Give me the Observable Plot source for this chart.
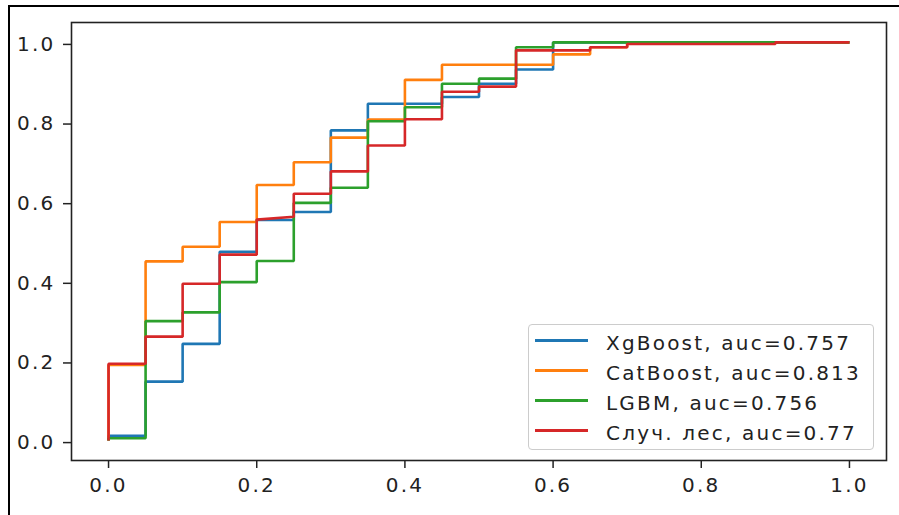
<!DOCTYPE html>
<html>
<head>
<meta charset="utf-8">
<script src="https://cdn.jsdelivr.net/npm/d3@7"></script>
<script src="https://cdn.jsdelivr.net/npm/@observablehq/plot@0.6"></script>
<style>
  body { margin: 0; background: #fff; }
  #wrap { position: relative; width: 899px; height: 515px; overflow: hidden; font-family: "DejaVu Sans", sans-serif; }
  #border { position: absolute; left: 8px; top: 5px; width: 920px; height: 540px; border-top: 2px solid #000; border-left: 2px solid #000; pointer-events: none; }
  #chart { position: absolute; left: 0; top: 0; }
  #chart svg text { letter-spacing: 2.2px; }
  #legend { position: absolute; left: 528px; top: 324px; width: 344px; height: 124px; box-sizing: content-box;
            background: rgba(255,255,255,0.8); border: 1px solid #cccccc; border-radius: 4px; }
  .row { position: absolute; left: 0; height: 30px; width: 100%; }
  .sw { position: absolute; left: 6px; top: 14px; width: 53px; height: 2.6px; }
  .lab { position: absolute; left: 77px; top: 3px; line-height: 30px; font-size: 20px; letter-spacing: 2.2px; color: #222; white-space: nowrap; }
</style>
</head>
<body>
<div id="wrap">
  <div id="chart"></div>
  <div id="legend"></div>
  <div id="border"></div>
</div>
<script>
// ---- data ----
const models = ["XgBoost, auc=0.757", "CatBoost, auc=0.813", "LGBM, auc=0.756", "Случ. лес, auc=0.77"];

const xgbFpr = [0, 0, 0.05, 0.05, 0.1, 0.1, 0.15, 0.15, 0.2, 0.2, 0.25, 0.25, 0.3, 0.3, 0.35, 0.35, 0.45, 0.45, 0.5, 0.5, 0.55, 0.55, 0.6, 0.6, 1];
const xgbTpr = [0, 0.012, 0.012, 0.148, 0.148, 0.243, 0.243, 0.474, 0.474, 0.554, 0.554, 0.574, 0.574, 0.779, 0.779, 0.846, 0.846, 0.863, 0.863, 0.896, 0.896, 0.932, 0.932, 1, 1];

const catFpr = [0, 0, 0.05, 0.05, 0.1, 0.1, 0.15, 0.15, 0.2, 0.2, 0.25, 0.25, 0.3, 0.3, 0.35, 0.35, 0.4, 0.4, 0.45, 0.45, 0.6, 0.6, 0.65, 0.65, 0.7, 0.7, 1];
const catTpr = [0, 0.19, 0.19, 0.45, 0.45, 0.487, 0.487, 0.549, 0.549, 0.642, 0.642, 0.699, 0.699, 0.761, 0.761, 0.806, 0.806, 0.906, 0.906, 0.944, 0.944, 0.97, 0.97, 0.988, 0.988, 1, 1];

const lgbmFpr = [0, 0, 0.05, 0.05, 0.1, 0.1, 0.15, 0.15, 0.2, 0.2, 0.25, 0.25, 0.3, 0.3, 0.35, 0.35, 0.4, 0.4, 0.45, 0.45, 0.5, 0.5, 0.55, 0.55, 0.6, 0.6, 1];
const lgbmTpr = [0, 0.006, 0.006, 0.30, 0.30, 0.322, 0.322, 0.398, 0.398, 0.451, 0.451, 0.597, 0.597, 0.635, 0.635, 0.802, 0.802, 0.837, 0.837, 0.896, 0.896, 0.909, 0.909, 0.988, 0.988, 1, 1];

const rfFpr = [0, 0, 0.05, 0.05, 0.1, 0.1, 0.15, 0.15, 0.2, 0.2, 0.25, 0.25, 0.3, 0.3, 0.35, 0.35, 0.4, 0.4, 0.45, 0.45, 0.5, 0.5, 0.55, 0.55, 0.65, 0.65, 0.7, 0.7, 0.9, 0.9, 1];
const rfTpr = [0, 0.193, 0.193, 0.261, 0.261, 0.394, 0.394, 0.467, 0.467, 0.555, 0.562, 0.62, 0.62, 0.676, 0.676, 0.741, 0.741, 0.807, 0.807, 0.876, 0.876, 0.889, 0.889, 0.98, 0.98, 0.988, 0.988, 0.996, 0.996, 1, 1];

const xTicks = [0, 0.2, 0.4, 0.6, 0.8, 1.0];
const yTicks = [0, 0.2, 0.4, 0.6, 0.8, 1.0];

// ---- styling ----
const colors = ["#1f77b4", "#ff7f0e", "#2ca02c", "#d62728"];

const series = [[xgbFpr, xgbTpr], [catFpr, catTpr], [lgbmFpr, lgbmTpr], [rfFpr, rfTpr]]
  .map(([f, t], i) => f.map((fpr, j) => ({model: models[i], fpr, tpr: t[j]})));

const chart = Plot.plot({
  width: 899,
  height: 515,
  marginLeft: 71,
  marginRight: 13,
  marginTop: 22,
  marginBottom: 55,
  style: {fontFamily: "DejaVu Sans, sans-serif", fontSize: "20px", color: "#222", background: "transparent"},
  x: {domain: [-0.05, 1.05]},
  y: {domain: [-0.05, 1.05]},
  marks: [
    ...series.map((d, i) => Plot.line(d, {x: "fpr", y: "tpr", stroke: colors[i], strokeWidth: 2.6, strokeLinejoin: "miter", strokeLinecap: "butt"})),
    Plot.frame({stroke: "#222", strokeWidth: 1.6}),
    Plot.axisX(xTicks, {tickFormat: d3.format(".1f"), tickSize: 8, tickPadding: 9, strokeWidth: 1.5, label: null}),
    Plot.axisY(yTicks, {tickFormat: d3.format(".1f"), tickSize: 8, tickPadding: 8, strokeWidth: 1.5, dy: 2, label: null})
  ]
});
document.getElementById("chart").appendChild(chart);

const legend = document.getElementById("legend");
models.forEach((m, i) => {
  const row = document.createElement("div");
  row.className = "row";
  row.style.top = (i * 30) + "px";
  const sw = document.createElement("div");
  sw.className = "sw";
  sw.style.background = colors[i];
  const lab = document.createElement("div");
  lab.className = "lab";
  lab.textContent = m;
  row.appendChild(sw);
  row.appendChild(lab);
  legend.appendChild(row);
});
</script>
</body>
</html>
